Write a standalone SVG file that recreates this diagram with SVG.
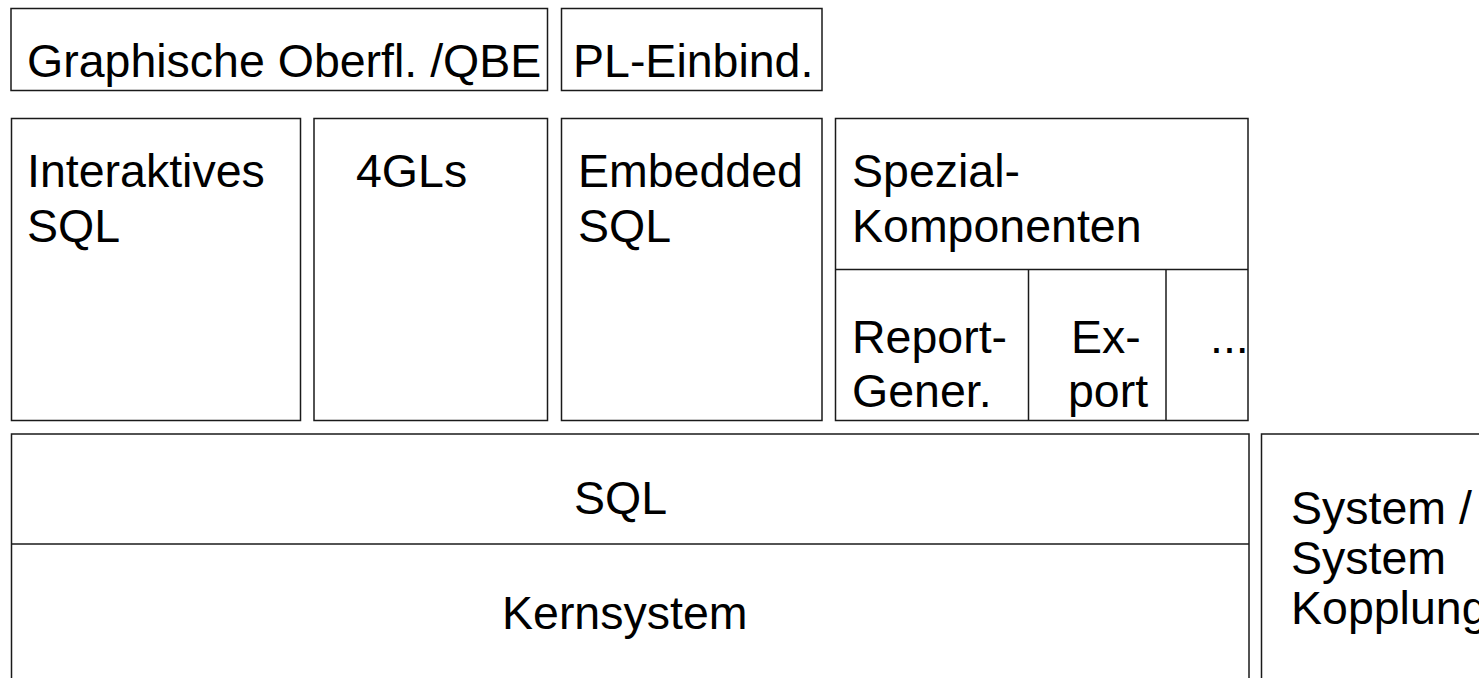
<svg xmlns="http://www.w3.org/2000/svg" width="1479" height="678" viewBox="0 0 1479 678">
<style>
.b{fill:#fff;stroke:#1a1a1a;stroke-width:1.5}
.l{stroke:#1a1a1a;stroke-width:1.5;fill:none}
text{font-family:"Liberation Sans",Arial,sans-serif;font-size:46.5px;fill:#000}
</style>
<rect width="1479" height="678" fill="#fff"/>
<g id="graphische"><rect class="b" x="11" y="8.5" width="536.5" height="82"/><text x="27" y="77">Graphische Oberfl. /QBE</text></g>
<g id="pl-einbind"><rect class="b" x="561.5" y="8.5" width="260.5" height="82"/><text x="573" y="77">PL-Einbind.</text></g>
<g id="interaktives-sql"><rect class="b" x="11.5" y="118.5" width="289" height="302"/><text x="27" y="187">Interaktives</text><text x="27" y="242">SQL</text></g>
<g id="4gls"><rect class="b" x="314" y="118.5" width="233.5" height="302"/><text x="356" y="187">4GLs</text></g>
<g id="embedded-sql"><rect class="b" x="561.5" y="118.5" width="260.5" height="302"/><text x="578" y="187">Embedded</text><text x="578" y="242">SQL</text></g>
<g id="spezial"><rect class="b" x="835.5" y="118.5" width="412.5" height="302"/><text x="852" y="187">Spezial-</text><text x="852" y="242">Komponenten</text></g>
<g id="connectors"><line class="l" x1="835.5" y1="269.5" x2="1248" y2="269.5"/><line class="l" x1="1028.5" y1="269.5" x2="1028.5" y2="420.5"/><line class="l" x1="1166" y1="269.5" x2="1166" y2="420.5"/><line class="l" x1="11.5" y1="544" x2="1249" y2="544"/></g>
<g id="report"><text x="852" y="352.5">Report-</text><text x="852" y="407">Gener.</text></g>
<g id="export"><text x="1071" y="352.5">Ex-</text><text x="1068" y="407">port</text></g>
<g id="more"><text x="1210" y="352.5">...</text></g>
<g id="sql-kern"><rect class="b" x="11.5" y="434" width="1237.5" height="260"/><line class="l" x1="11.5" y1="544" x2="1249" y2="544"/><text x="574" y="514">SQL</text><text x="502" y="629">Kernsystem</text></g>
<g id="kopplung"><rect class="b" x="1261.5" y="434" width="240" height="260"/><text x="1291" y="524">System /</text><text x="1291" y="574">System</text><text x="1291" y="624">Kopplung</text></g>
</svg>
